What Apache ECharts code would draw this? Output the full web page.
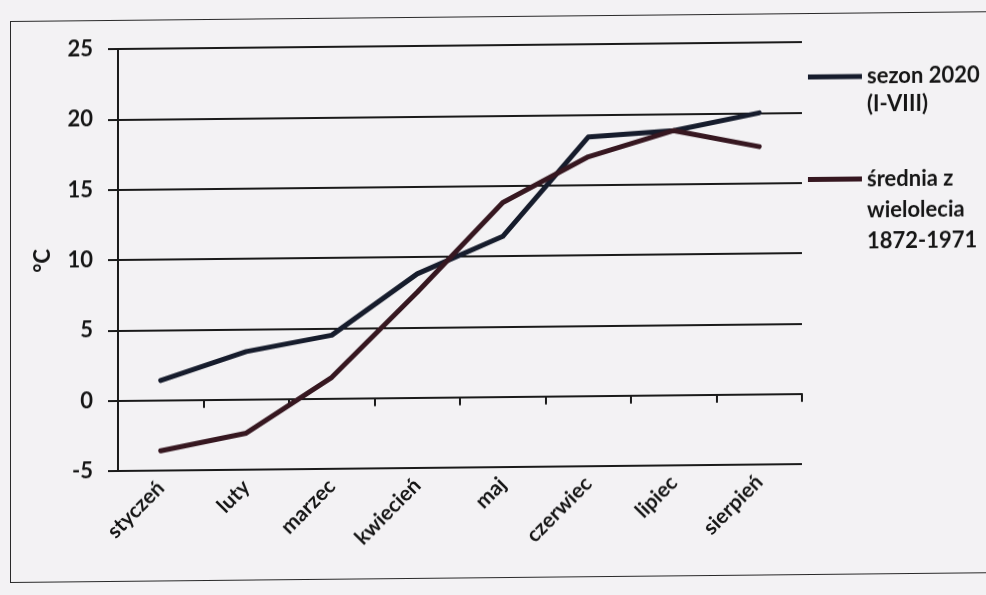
<!DOCTYPE html>
<html>
<head>
<meta charset="utf-8">
<script src="https://cdn.jsdelivr.net/npm/echarts@6/dist/echarts.min.js"></script>
<style>
  html, body { margin: 0; padding: 0; background: #f3f2f4; overflow: hidden; width: 986px; height: 595px; position: relative; }
  /* slight skew of the printed page */
  .page { position: absolute; left: 0; top: 0; transform: skewY(-0.58deg); transform-origin: 118px 400px; }
  #chart { width: 986px; height: 595px; }
  /* outer frame, open to the right past the page edge */
  #frame { position: absolute; left: 10px; top: 20px; width: 1100px; height: 562px;
           border: 1.5px solid #2a2a2a; border-right: none; box-sizing: border-box; }
</style>
</head>
<body>
<div class="page"><div id="frame"></div></div>
<div class="page"><div id="chart"></div></div>
<script>
// Monthly mean air temperature, °C
const months = ['styczeń', 'luty', 'marzec', 'kwiecień', 'maj', 'czerwiec', 'lipiec', 'sierpień'];
const season2020 = [1.4, 3.4, 4.5, 8.8, 11.4, 18.4, 18.8, 20.0];
const longTermMean = [-3.6, -2.4, 1.5, 7.5, 13.8, 17.0, 18.8, 17.6];

const yMin = -5, yMax = 25, yStep = 5;

const seriesNames = ['sezon 2020 (I-VIII)', 'średnia z wielolecia 1872-1971'];
const legendLines = {
  'sezon 2020 (I-VIII)': ['sezon 2020', '(I-VIII)'],
  'średnia z wielolecia 1872-1971': ['średnia z', 'wielolecia', '1872-1971']
};
const lineColors = ['#161c2c', '#361720'];

const FONT = 'Lato, "Open Sans", sans-serif';
const ink = '#151515';

// Legend text is centred on its key line; blank lines above keep the
// first text line level with the key.
function legendText(nm) {
  const lines = legendLines[nm];
  return new Array(lines.length - 1).fill('').concat(lines).join('\n');
}

function legendFor(name, top, lineHeight) {
  return {
    left: 803,
    top: top,
    orient: 'vertical',
    icon: 'rect',
    itemWidth: 54,
    itemHeight: 5,
    itemGap: 0,
    selectedMode: false,
    data: [{
      name: name,
      textStyle: {
        fontFamily: FONT, fontSize: 22, fontWeight: 'bold', color: ink,
        lineHeight: lineHeight
      }
    }],
    formatter: legendText
  };
}

const chart = echarts.init(document.getElementById('chart'), null, { renderer: 'canvas' });

chart.setOption({
  backgroundColor: 'transparent',
  animation: false,
  grid: { left: 118, right: 184, top: 49, bottom: 124, containLabel: false },
  legend: [
    legendFor(seriesNames[0], 37, 28),
    legendFor(seriesNames[1], 104, 31)
  ],
  xAxis: [
    {
      // category labels below the plot
      type: 'category',
      data: months,
      position: 'bottom',
      boundaryGap: true,
      axisLine: { show: false, onZero: false },
      axisTick: { show: false },
      axisLabel: {
        rotate: 45, margin: 14, interval: 0,
        fontFamily: FONT, fontSize: 21, fontWeight: 'bold', color: ink
      },
      splitLine: { show: false }
    },
    {
      // axis line with tick marks crossing at 0 °C
      type: 'category',
      data: months,
      position: 'bottom',
      boundaryGap: true,
      axisLine: { show: true, onZero: true, lineStyle: { color: '#1a1a1a', width: 2 } },
      axisTick: { show: true, length: 8, interval: 0, lineStyle: { color: '#1a1a1a', width: 2 } },
      axisLabel: { show: false },
      splitLine: { show: false }
    }
  ],
  yAxis: {
    type: 'value',
    min: yMin, max: yMax, interval: yStep,
    name: '°C',
    nameLocation: 'middle',
    nameGap: 64,
    nameRotate: 90,
    nameTextStyle: { fontFamily: FONT, fontSize: 22, fontWeight: 'bold', color: ink },
    axisLine: { show: true, lineStyle: { color: '#1a1a1a', width: 2 } },
    axisTick: { show: true, length: 10, lineStyle: { color: '#1a1a1a', width: 2 } },
    axisLabel: { margin: 25, fontFamily: FONT, fontSize: 22, fontWeight: 'bold', color: ink },
    splitLine: { show: true, lineStyle: { color: '#1a1a1a', width: 1.8 } }
  },
  series: [
    {
      name: seriesNames[0],
      type: 'line',
      xAxisIndex: 0,
      data: season2020,
      symbol: 'none',
      lineStyle: { color: lineColors[0], width: 5, join: 'round', cap: 'round' },
      itemStyle: { color: lineColors[0] },
      z: 3
    },
    {
      name: seriesNames[1],
      type: 'line',
      xAxisIndex: 0,
      data: longTermMean,
      symbol: 'none',
      lineStyle: { color: lineColors[1], width: 5, join: 'round', cap: 'round' },
      itemStyle: { color: lineColors[1] },
      z: 4
    }
  ]
});
</script>
</body>
</html>
